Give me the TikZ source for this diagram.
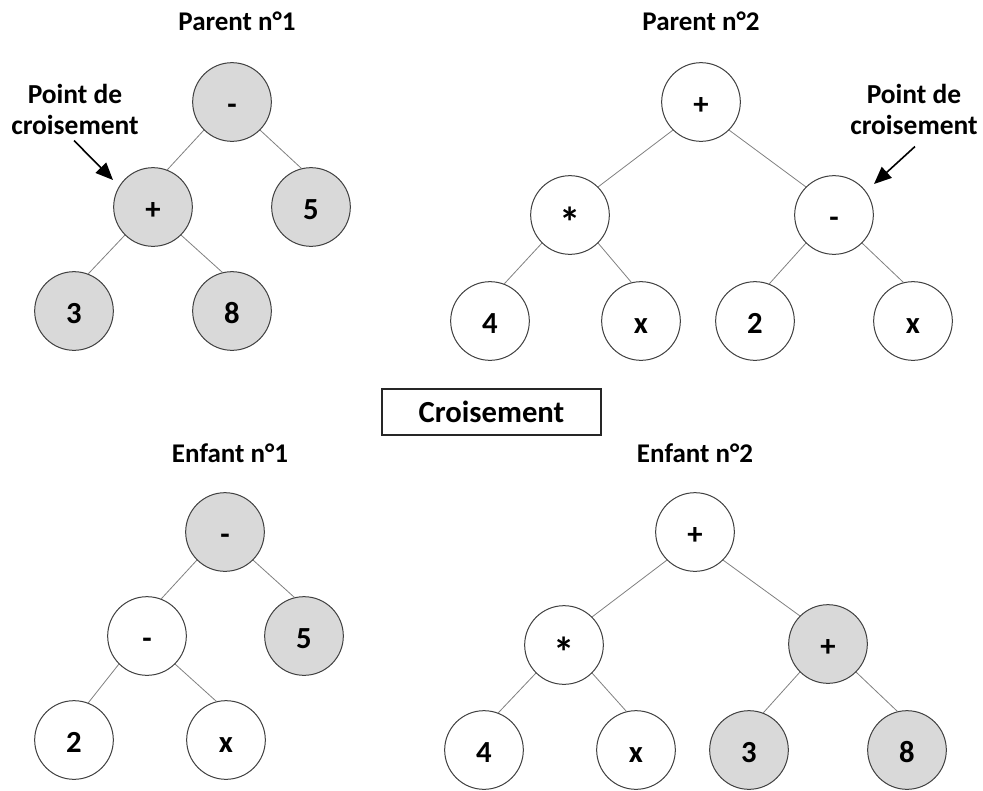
\documentclass[tikz,border=0pt]{standalone}
\usepackage{fontspec}
\setmainfont{Carlito}
\usetikzlibrary{arrows.meta}

% larger asterisk, lowered onto the digit line
\newcommand\mulsign{\raisebox{-8pt}{\fontsize{32}{32}\selectfont *}}

\begin{document}
\begin{tikzpicture}[x=0.75pt,y=-0.75pt,
  nd/.style={circle,draw=black!75,line width=0.75pt,fill=white,
    minimum size=59pt,inner sep=0pt,
    font=\fontsize{23}{23}\selectfont\bfseries,
    text height=18.3pt,text depth=0pt},
  sel/.style={nd,fill=gray!30},
  edge/.style={draw=black!50,line width=0.6pt},
  title/.style={font=\fontsize{20.25}{24}\selectfont\bfseries,anchor=base,inner sep=0pt},
  callout/.style={font=\fontsize{20.6}{23.25}\selectfont\bfseries,align=center,inner sep=0pt},
  pointer/.style={line width=1.2pt,-{Triangle[length=13pt,width=11pt]}},
  opbox/.style={draw=black!85,line width=1pt,minimum width=164.25pt,minimum height=34.5pt,
    font=\fontsize{23}{23}\selectfont\bfseries}
]
\useasboundingbox (0,0) rectangle (983,790);

% ---- Parent 1
\node[title] (t1) at (237,30) {Parent n°1};
\node[sel] (p1r) at (232,102) {-};
\node[sel] (p1a) at (153,207) {+};
\node[sel] (p1b) at (311,207) {5};
\node[sel] (p1c) at (74,311) {3};
\node[sel] (p1d) at (232,311) {8};
\draw[edge] (p1r.225) -- (p1a.69);
\draw[edge] (p1r.315) -- (p1b.104);
\draw[edge] (p1a.225) -- (p1c.69);
\draw[edge] (p1a.315) -- (p1d.104);

\node[callout] (cl1) at (75,109) {Point de\\croisement};
\coordinate (tip1) at (113,180);
\path (cl1.south) ++(-1,6) coordinate (tail1);
\draw[pointer] (tail1) -- (tip1);

% ---- Parent 2
\node[title] (t2) at (701,30) {Parent n°2};
\node[nd] (p2r) at (701,102) {+};
\node[nd] (p2a) at (570,215) {\mulsign};
\node[nd] (p2b) at (834,215) {-};
\node[nd] (p2c) at (490,321) {4};
\node[nd] (p2d) at (641,321) {x};
\node[nd] (p2e) at (755,321) {2};
\node[nd] (p2f) at (913,321) {x};
\draw[edge] (p2r.225) -- (p2a.45);
\draw[edge] (p2r.315) -- (p2b.135);
\draw[edge] (p2a.225) -- (p2c.69);
\draw[edge] (p2a.315) -- (p2d.104);
\draw[edge] (p2b.225) -- (p2e.69);
\draw[edge] (p2b.315) -- (p2f.104);

\node[callout] (cl2) at (914,109) {Point de\\croisement};
\coordinate (tip2) at (874,184);
\path (cl2.south) ++(1,12) coordinate (tail2);
\draw[pointer] (tail2) -- (tip2);

% ---- Operator
\node[opbox] (op) at (491.5,412) {Croisement};

% ---- Enfant 1
\node[title] (t3) at (230,462) {Enfant n°1};
\node[sel] (e1r) at (225,532) {-};
\node[nd] (e1a) at (147,636) {-};
\node[sel] (e1b) at (304,636) {5};
\node[nd] (e1c) at (74,740) {2};
\node[nd] (e1d) at (226,740) {x};
\draw[edge] (e1r.225) -- (e1a.69);
\draw[edge] (e1r.315) -- (e1b.104);
\draw[edge] (e1a.225) -- (e1c.69);
\draw[edge] (e1a.315) -- (e1d.104);

% ---- Enfant 2
\node[title] (t4) at (695,462) {Enfant n°2};
\node[nd] (e2r) at (695,532) {+};
\node[nd] (e2a) at (564,645) {\mulsign};
\node[sel] (e2b) at (828,644) {+};
\node[nd] (e2c) at (484,750) {4};
\node[nd] (e2d) at (636,750) {x};
\node[sel] (e2e) at (749,750) {3};
\node[sel] (e2f) at (907,750) {8};
\draw[edge] (e2r.225) -- (e2a.45);
\draw[edge] (e2r.315) -- (e2b.135);
\draw[edge] (e2a.225) -- (e2c.69);
\draw[edge] (e2a.315) -- (e2d.104);
\draw[edge] (e2b.225) -- (e2e.69);
\draw[edge] (e2b.315) -- (e2f.104);
\end{tikzpicture}
\end{document}
